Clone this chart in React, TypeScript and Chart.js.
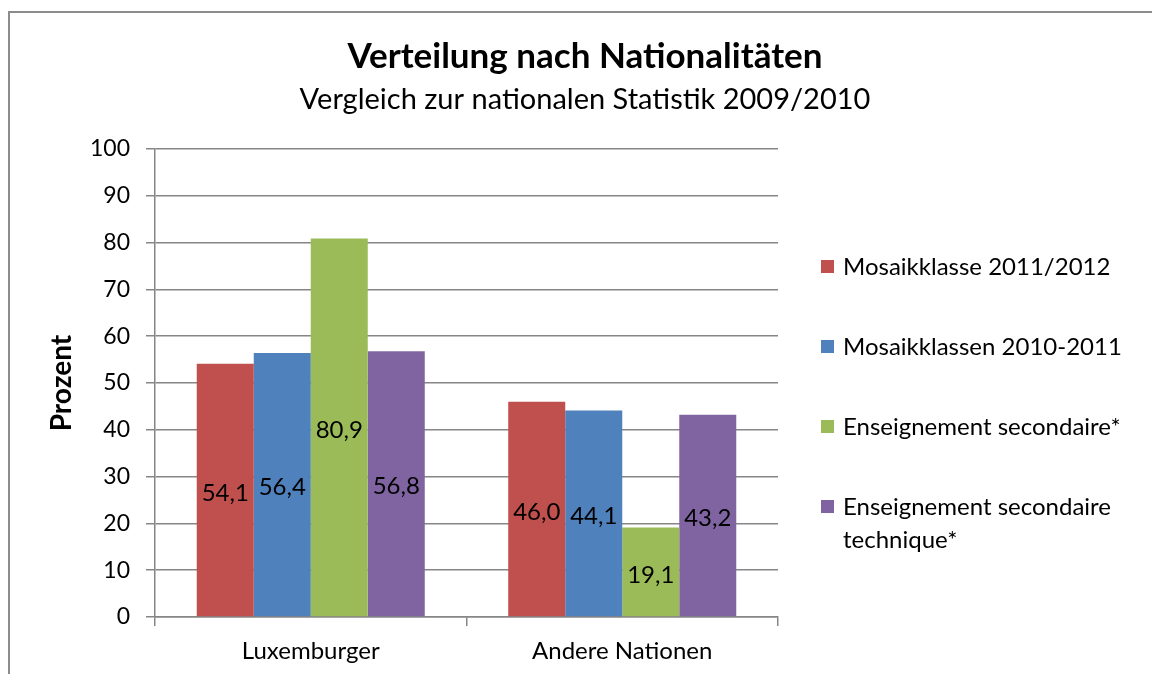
import React, { useEffect, useRef } from "react";
import { Chart, registerables } from "chart.js";

Chart.register(...registerables);

const categories = ["Luxemburger", "Andere Nationen"];
const seriesNames = [
  "Mosaikklasse 2011/2012",
  "Mosaikklassen 2010-2011",
  "Enseignement secondaire*",
  "Enseignement secondaire technique*",
];
const legendLines = [
  ["Mosaikklasse 2011/2012"],
  ["Mosaikklassen 2010-2011"],
  ["Enseignement secondaire*"],
  ["Enseignement secondaire", "technique*"],
];
const mosaik1112 = [54.1, 46.0];
const mosaik1011 = [56.4, 44.1];
const secondaire = [80.9, 19.1];
const technique = [56.8, 43.2];
const seriesColors = ["#C0504D", "#4F81BD", "#9BBB59", "#8064A2"];
const yTickValues = [0, 10, 20, 30, 40, 50, 60, 70, 80, 90, 100];
const titleText = "Verteilung nach Nationalitäten";
const subtitleText = "Vergleich zur nationalen Statistik 2009/2010";
const yAxisTitle = "Prozent";

const FONT = "Lato, 'Open Sans', sans-serif";
const GRID = "#868686";

const overlayPlugin = {
  id: "overlay",
  afterDatasetsDraw(chart: any) {
    const ctx = chart.ctx;
    ctx.save();
    ctx.fillStyle = "#000";
    ctx.font = `24px ${FONT}`;
    ctx.textAlign = "center";
    ctx.textBaseline = "middle";
    chart.data.datasets.forEach((ds: any, i: number) => {
      const meta = chart.getDatasetMeta(i);
      meta.data.forEach((bar: any, j: number) => {
        const v = ds.data[j] as number;
        const label = v.toFixed(1).replace(".", ",");
        ctx.fillText(label, bar.x, (bar.y + bar.base) / 2 + 3);
      });
    });
    ctx.restore();
  },
  afterDraw(chart: any) {
    const ctx = chart.ctx;
    ctx.save();
    ctx.fillStyle = "#000";
    ctx.textAlign = "center";
    ctx.textBaseline = "middle";
    ctx.font = `bold 35px ${FONT}`;
    ctx.fillText(titleText, 585, 57);
    ctx.font = `29px ${FONT}`;
    ctx.fillText(subtitleText, 585, 100);

    // legend
    ctx.textAlign = "left";
    ctx.font = `24px ${FONT}`;
    let y = 267;
    legendLines.forEach((lines, i) => {
      ctx.fillStyle = seriesColors[i];
      ctx.fillRect(821, y - 7, 13, 13);
      ctx.fillStyle = "#000";
      lines.forEach((ln, k) => {
        ctx.fillText(ln, 843, y + k * 33);
      });
      y += lines.length * 33 + 47;
    });
    ctx.restore();
  },
};

export default function App() {
  const canvasRef = useRef<HTMLCanvasElement | null>(null);

  useEffect(() => {
    document.body.style.margin = "0";
    const canvas = canvasRef.current;
    if (!canvas) return;
    const seriesData = [mosaik1112, mosaik1011, secondaire, technique];
    const chart = new Chart(canvas, {
      type: "bar",
      data: {
        labels: categories,
        datasets: seriesData.map((d, i) => ({
          label: seriesNames[i],
          data: d,
          backgroundColor: seriesColors[i],
          borderWidth: 0,
          categoryPercentage: 0.732,
          barPercentage: 1,
        })),
      },
      options: {
        animation: false,
        responsive: false,
        maintainAspectRatio: false,
        layout: { padding: { top: 149, right: 374, bottom: 0, left: 0 } },
        plugins: {
          legend: { display: false },
          title: { display: false },
          tooltip: { enabled: false },
        },
        scales: {
          x: {
            afterFit: (scale: any) => {
              scale.height = 57;
            },
            grid: {
              display: true,
              drawOnChartArea: false,
              drawTicks: true,
              tickLength: 9,
              color: GRID,
              lineWidth: 1.5,
              offset: true,
            },
            border: { display: true, color: GRID, width: 1.5 },
            ticks: {
              color: "#000",
              font: { family: FONT, size: 24 },
              padding: 11,
            },
          },
          y: {
            min: 0,
            max: 100,
            afterFit: (scale: any) => {
              scale.width = 155;
            },
            afterBuildTicks: (scale: any) => {
              scale.ticks = yTickValues.map((v) => ({ value: v }));
            },
            grid: {
              color: GRID,
              lineWidth: 1.5,
              drawTicks: true,
              tickLength: 9,
            },
            border: { display: true, color: GRID, width: 1.5 },
            ticks: {
              color: "#000",
              font: { family: FONT, size: 23 },
              padding: 16,
            },
            title: {
              display: true,
              text: yAxisTitle,
              color: "#000",
              font: { family: FONT, size: 28, weight: "bold" },
              padding: { top: 45, bottom: 0 },
            },
          },
        },
      },
      plugins: [overlayPlugin],
    });
    return () => chart.destroy();
  }, []);

  return (
    <div style={{ position: "fixed", left: 0, top: 0, width: 1152, height: 674, background: "#fff", overflow: "hidden" }}>
      <div
        style={{
          position: "absolute",
          left: 8,
          top: 11,
          width: 1200,
          height: 700,
          borderLeft: "2px solid #8c8c8c",
          borderTop: "2px solid #8c8c8c",
        }}
      />
      <canvas ref={canvasRef} width={1152} height={674} style={{ position: "absolute", left: 0, top: 0 }} />
    </div>
  );
}
